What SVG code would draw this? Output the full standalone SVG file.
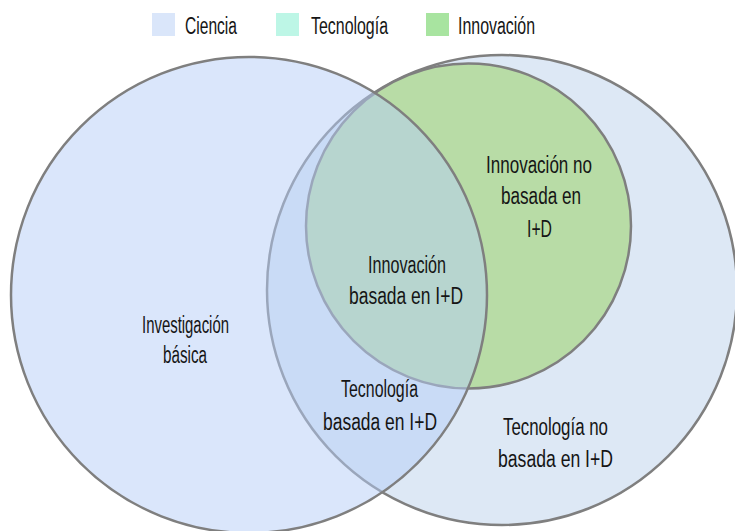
<svg xmlns="http://www.w3.org/2000/svg" width="735" height="531" viewBox="0 0 735 531">
<style>
  .c { stroke: #7f7f7f; stroke-width: 2.5; }
  .t { font-family: "Liberation Sans", Arial, sans-serif; font-size: 23px; fill: #151515; }
</style>
<rect width="735" height="531" fill="#ffffff"/>
<g id="legend">
  <rect x="152" y="13" width="23" height="23" fill="#dae6fa"/>
  <text class="t" x="185" y="34" textLength="52" lengthAdjust="spacingAndGlyphs">Ciencia</text>
  <rect x="276" y="13" width="23" height="23" fill="#bdf6e6"/>
  <text class="t" x="311" y="34" textLength="77" lengthAdjust="spacingAndGlyphs">Tecnología</text>
  <rect x="426" y="13" width="23" height="23" fill="#a8e4a0"/>
  <text class="t" x="458" y="34" textLength="77" lengthAdjust="spacingAndGlyphs">Innovación</text>
</g>
<g id="tecnologia">
  <circle class="c" cx="502" cy="290" r="235" fill="#dde8f5"/>
</g>
<g id="innovacion">
  <circle class="c" cx="468.5" cy="226" r="162.5" fill="#b8dca6"/>
</g>
<g id="ciencia">
  <circle cx="249" cy="295" r="238" fill="#b5cdf7" fill-opacity="0.5"/>
  <circle class="c" cx="249" cy="295" r="238" fill="none"/>
</g>
<g id="labels">
  <text class="t" x="142" y="333" textLength="87" lengthAdjust="spacingAndGlyphs">Investigación</text>
  <text class="t" x="163" y="363" textLength="44" lengthAdjust="spacingAndGlyphs">básica</text>
  <text class="t" x="368" y="273" textLength="78" lengthAdjust="spacingAndGlyphs">Innovación</text>
  <text class="t" x="349" y="304" textLength="114" lengthAdjust="spacingAndGlyphs">basada en I+D</text>
  <text class="t" x="486" y="173" textLength="106" lengthAdjust="spacingAndGlyphs">Innovación no</text>
  <text class="t" x="501" y="204" textLength="80" lengthAdjust="spacingAndGlyphs">basada en</text>
  <text class="t" x="527" y="237" textLength="25" lengthAdjust="spacingAndGlyphs">I+D</text>
  <text class="t" x="341" y="397" textLength="77" lengthAdjust="spacingAndGlyphs">Tecnología</text>
  <text class="t" x="323" y="430" textLength="114" lengthAdjust="spacingAndGlyphs">basada en I+D</text>
  <text class="t" x="503" y="435" textLength="105" lengthAdjust="spacingAndGlyphs">Tecnología no</text>
  <text class="t" x="498" y="467" textLength="115" lengthAdjust="spacingAndGlyphs">basada en I+D</text>
</g>
</svg>
